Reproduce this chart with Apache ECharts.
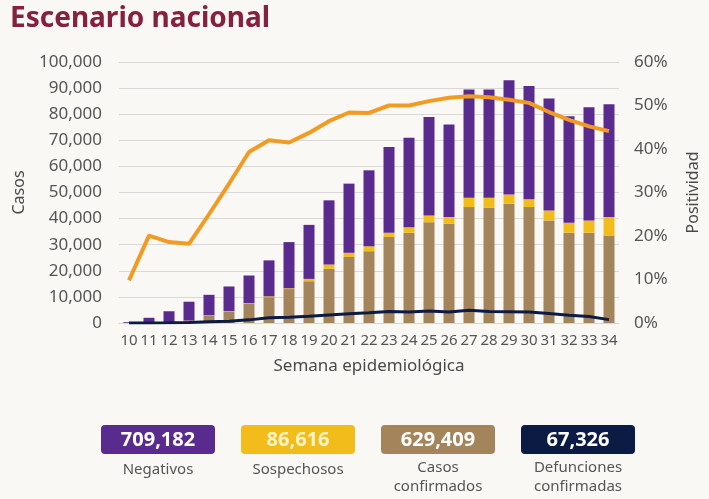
<!DOCTYPE html>
<html>
<head>
<meta charset="utf-8">
<title>Escenario nacional</title>
<script src="https://cdn.jsdelivr.net/npm/echarts@6/dist/echarts.min.js"></script>
<style>
    html, body { margin: 0; padding: 0; background: #faf8f5; }
    #main1 { width: 709px; height: 499px; }
</style>
</head>
<body>
<div id="main1"></div>
<script>
// semanas epidemiologicas
var weekList = ['10', '11', '12', '13', '14', '15', '16', '17', '18', '19', '20', '21', '22',
    '23', '24', '25', '26', '27', '28', '29', '30', '31', '32', '33', '34'];

// casos por semana
var confirmadosList = [20, 150, 250, 900, 2900, 4400, 7400, 9900, 13000, 16000, 20800, 25300, 27500,
    33000, 34600, 38600, 38000, 44400, 44300, 45700, 44400, 39300, 34600, 34600, 33500];
var sospechososList = [0, 50, 50, 50, 100, 150, 200, 300, 300, 900, 1600, 1600, 1900,
    1600, 2100, 2600, 2600, 3600, 3700, 3500, 3000, 3800, 3800, 4700, 7100];
var negativosList = [300, 1800, 4200, 7200, 7800, 9450, 10600, 13800, 17700, 20700, 24600, 26500, 29100,
    32800, 34300, 37700, 35500, 41500, 41500, 43800, 43400, 42900, 40800, 43400, 43200];
var defuncionesList = [0, 20, 60, 150, 450, 700, 1200, 2000, 2200, 2600, 3100, 3500, 3900,
    4400, 4200, 4600, 4200, 4900, 4400, 4300, 4200, 3600, 3000, 2500, 1300];
// positividad (%)
var positividadList = [9.8, 20.1, 18.6, 18.2, 25.0, 32.0, 39.3, 42.0, 41.5, 43.7, 46.4, 48.4, 48.3,
    50.0, 50.0, 51.0, 51.8, 52.1, 51.9, 51.3, 50.6, 48.5, 46.7, 45.2, 44.1];

// totales de abajo
var totalValues = ['709,182', '86,616', '629,409', '67,326'];
var totalLabels = ['Negativos', 'Sospechosos', 'Casos\nconfirmados', 'Defunciones\nconfirmadas'];

var colors = ['#a4845a', '#f2bd1a', '#5a2b8e', '#0c1b43', '#f29b22'];
var font = 'Noto Sans';

initEhart1();

function initEhart1() {
    var myChart1 = echarts.init(document.getElementById('main1'));

    var option = {
        backgroundColor: '#faf8f5',
        textStyle: { fontFamily: font },
        title: {
            text: 'Escenario nacional',
            left: 5,
            top: 0,
            textStyle: {
                color: '#85203f',
                fontSize: 28,
                fontWeight: 'bold',
                fontFamily: font
            }
        },
        grid: {
            left: 119,
            right: 81,
            top: 62,
            bottom: 176
        },
        xAxis: {
            type: 'category',
            data: weekList,
            name: 'Semana epidemiológica',
            nameLocation: 'middle',
            nameGap: 35,
            nameTextStyle: { color: '#4a4a4a', fontSize: 17 },
            axisTick: { show: false },
            axisLine: { lineStyle: { color: '#d6d6d6' } },
            axisLabel: { color: '#555', fontSize: 15, margin: 10, interval: 0 }
        },
        yAxis: [
            {
                type: 'value',
                min: 0,
                max: 100000,
                interval: 10000,
                name: 'Casos',
                nameLocation: 'middle',
                nameRotate: 90,
                nameGap: 92,
                nameTextStyle: { color: '#4a4a4a', fontSize: 16 },
                axisLabel: {
                    color: '#555',
                    fontSize: 17,
                    margin: 17,
                    formatter: function (v) {
                        return v.toLocaleString('en-US');
                    }
                },
                splitLine: { lineStyle: { color: '#d9d9d9' } }
            },
            {
                type: 'value',
                min: 0,
                max: 60,
                interval: 10,
                name: 'Positividad',
                nameLocation: 'middle',
                nameRotate: 90,
                nameGap: 66,
                nameTextStyle: { color: '#4a4a4a', fontSize: 16 },
                axisLabel: { color: '#555', fontSize: 17, margin: 15, formatter: '{value}%' },
                splitLine: { show: false }
            }
        ],
        series: [
            {
                name: 'Casos confirmados',
                type: 'bar',
                stack: 'casos',
                barWidth: 11,
                itemStyle: { color: colors[0] },
                data: confirmadosList
            },
            {
                name: 'Sospechosos',
                type: 'bar',
                stack: 'casos',
                barWidth: 11,
                itemStyle: { color: colors[1] },
                data: sospechososList
            },
            {
                name: 'Negativos',
                type: 'bar',
                stack: 'casos',
                barWidth: 11,
                itemStyle: { color: colors[2] },
                data: negativosList
            },
            {
                name: 'Defunciones confirmadas',
                type: 'line',
                symbol: 'none',
                z: 5,
                lineStyle: { color: colors[3], width: 3 },
                data: defuncionesList
            },
            {
                name: 'Positividad',
                type: 'line',
                yAxisIndex: 1,
                symbol: 'none',
                z: 6,
                lineStyle: { color: colors[4], width: 4 },
                data: positividadList
            }
        ],
        graphic: totalBoxes()
    };
    myChart1.setOption(option);
}

// cajas con los totales
function totalBoxes() {
    var boxColors = [colors[2], colors[1], colors[0], colors[3]];
    var valueColors = ['#fff', '#fff4c8', '#fff', '#fff'];
    var items = [];
    for (var i = 0; i < totalValues.length; i++) {
        var x = 101 + i * 140;
        items.push({
            type: 'group',
            left: x,
            top: 425,
            children: [
                {
                    type: 'rect',
                    shape: { x: 0, y: 0, width: 114, height: 29, r: 4 },
                    style: { fill: boxColors[i] }
                },
                {
                    type: 'text',
                    x: 57,
                    y: 15,
                    style: {
                        text: totalValues[i],
                        fill: valueColors[i],
                        font: 'bold 20px "Noto Sans"',
                        align: 'center',
                        verticalAlign: 'middle'
                    }
                },
                {
                    type: 'text',
                    x: 57,
                    y: i < 2 ? 35 : 33,
                    style: {
                        text: totalLabels[i],
                        fill: '#555',
                        font: '15px "Noto Sans"',
                        lineHeight: 19,
                        align: 'center',
                        verticalAlign: 'top'
                    }
                }
            ]
        });
    }
    return items;
}
</script>
</body>
</html>
